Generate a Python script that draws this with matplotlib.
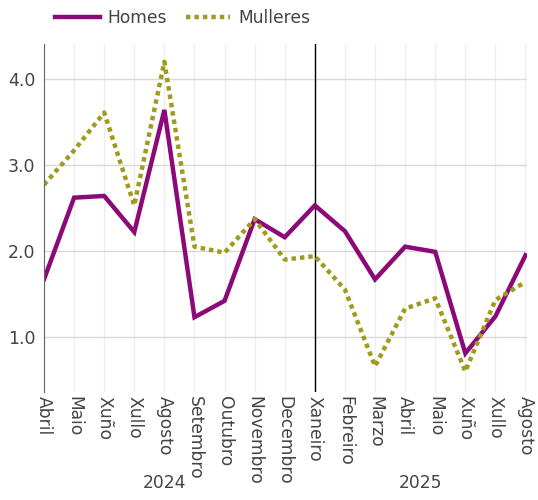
import numpy as np
import matplotlib.pyplot as plt

# months on the x axis (Abril 2024 .. Agosto 2025)
months = ['Abril', 'Maio', 'Xuño', 'Xullo', 'Agosto', 'Setembro', 'Outubro',
          'Novembro', 'Decembro', 'Xaneiro', 'Febreiro', 'Marzo', 'Abril',
          'Maio', 'Xuño', 'Xullo', 'Agosto']
years = ['2024', '2025']
year_centres = [4.0, 12.5]

homes = [1.67, 2.62, 2.64, 2.22, 3.64, 1.23, 1.42, 2.37, 2.16, 2.53,
         2.23, 1.67, 2.05, 1.99, 0.81, 1.24, 1.95]
mulleres = [2.77, 3.17, 3.61, 2.53, 4.20, 2.05, 1.98, 2.37, 1.90, 1.94,
            1.55, 0.66, 1.33, 1.45, 0.60, 1.43, 1.64]

purple = '#8c0a78'
olive = '#a09a1e'
grey = '#444444'

fig = plt.figure(figsize=(5.38, 5.0), dpi=100)
ax = fig.add_axes([44 / 538, 1 - 392 / 500, (527 - 44) / 538, (392 - 44) / 500])

x = np.arange(len(months))
ax.plot(x, homes, color=purple, lw=3.2, label='Homes', solid_joinstyle='miter')
ax.plot(x, mulleres, color=olive, lw=3.2, ls=(0, (1, 0.9)), label='Mulleres')

# line at the start of 2025
ax.axvline(9, color='black', lw=1, zorder=1)

ax.set_xlim(0, 16.05)
ax.set_ylim(0.36, 4.407)
ax.set_yticks([1.0, 2.0, 3.0, 4.0])
ax.set_yticklabels(['1.0', '2.0', '3.0', '4.0'])
ax.set_xticks(x)
ax.set_xticklabels(months, rotation=-90, va='top', ha='center')

ax.grid(axis='y', color='#d8d8d8', lw=1)
ax.grid(axis='x', color='#eeeeee', lw=1)
ax.set_axisbelow(True)
for s in ['top', 'right', 'bottom']:
    ax.spines[s].set_visible(False)
ax.spines['left'].set_color('#666666')
ax.tick_params(axis='y', length=0, labelsize=12.5, labelcolor=grey, pad=6)
ax.tick_params(axis='x', length=0, labelsize=12.3, labelcolor=grey, pad=3)

for yr, c in zip(years, year_centres):
    ax.text(c, -(483 - 392) / 348, yr, transform=ax.get_xaxis_transform(),
            ha='center', va='center', fontsize=12.3, color=grey)

fig.legend(loc='upper left', bbox_to_anchor=(40 / 538, 1.012), ncol=2, frameon=False,
           fontsize=12.3, labelcolor=grey, handlelength=2.6, columnspacing=1.1,
           handletextpad=0.45)

fig.savefig('out.png', dpi=100)
